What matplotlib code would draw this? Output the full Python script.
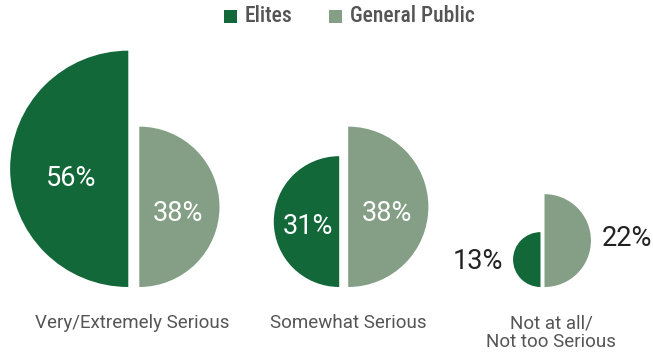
import matplotlib.pyplot as plt
from matplotlib.patches import Wedge, Rectangle

plt.rcParams['font.family'] = ['Roboto', 'DejaVu Sans']
CONDENSED = ['Liberation Sans Narrow', 'Roboto Condensed', 'Roboto', 'DejaVu Sans']

categories = ['Very/Extremely Serious', 'Somewhat Serious', 'Not at all/\nNot too Serious']
elites = [56, 31, 13]
general_public = [38, 38, 22]

ELITE_COLOR = '#13683a'
PUBLIC_COLOR = '#849f86'
LABEL_GREY = '#555555'

W, H = 653, 358
SCALE = 2.11          # radius in px per percentage point
BASELINE = 287        # all half circles sit on this line
split_x = [133.8, 343.7, 542.5]
gaps = [11, 9, 4]
label_x = [132, 348, 551]

fig = plt.figure(figsize=(W / 100, H / 100), dpi=100)
ax = fig.add_axes([0, 0, 1, 1])
ax.set_xlim(0, W)
ax.set_ylim(H, 0)
ax.axis('off')


def pct_label(x, y, value, inside, ha='center'):
    ax.text(x, y, f'{value}%', ha=ha, va='center', fontsize=19.5,
            color='white' if inside else '#222222')


for i, cat in enumerate(categories):
    sx, g = split_x[i], gaps[i]

    # left half: elites
    r = elites[i] * SCALE
    edge = sx - g / 2
    cy = BASELINE - r
    ax.add_patch(Wedge((edge, cy), r, 90, 270, color=ELITE_COLOR, lw=0))
    if elites[i] >= 25:
        pct_label(edge - 0.48 * r, cy + 0.08 * r, elites[i], True)
    else:
        pct_label(edge - r - 10, cy + 2, elites[i], False, ha='right')

    # right half: general public
    r = general_public[i] * SCALE
    edge = sx + g / 2
    cy = BASELINE - r
    ax.add_patch(Wedge((edge, cy), r, -90, 90, color=PUBLIC_COLOR, lw=0))
    if general_public[i] >= 25:
        pct_label(edge + 0.48 * r, cy + 0.08 * r, general_public[i], True)
    else:
        pct_label(edge + r + 11, cy - 2, general_public[i], False, ha='left')

    ax.text(label_x[i], 314, cat, ha='center', va='top', fontsize=13.5,
            color=LABEL_GREY, linespacing=1.05)

# legend
for x0, color, name in [(224, ELITE_COLOR, 'Elites'), (329, PUBLIC_COLOR, 'General Public')]:
    ax.add_patch(Rectangle((x0, 10), 13, 13, color=color, lw=0))
    ax.text(x0 + 21, 16, name, ha='left', va='center', fontsize=15.5,
            color=LABEL_GREY, family=CONDENSED, fontweight='medium')

fig.savefig('out.png', dpi=100)
